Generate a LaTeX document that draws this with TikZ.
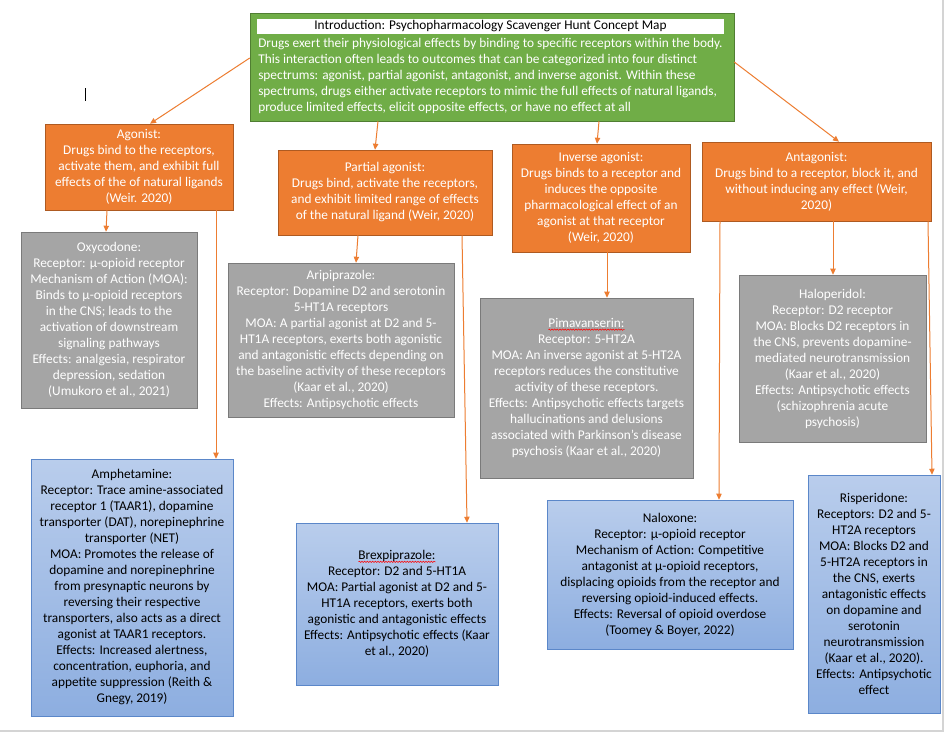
\documentclass[tikz,border=0pt]{standalone}
\usepackage{fontspec}
\setmainfont{Carlito}
\usetikzlibrary{arrows.meta,calc,positioning,decorations.pathmorphing}
\definecolor{greenfill}{HTML}{70AD47}
\definecolor{greenline}{HTML}{507E32}
\definecolor{orangefill}{HTML}{ED7D31}
\definecolor{orangeline}{HTML}{AE5A21}
\definecolor{grayfill}{HTML}{A5A5A5}
\definecolor{grayline}{HTML}{7A7A7A}
\definecolor{bluetop}{HTML}{B9CDEC}
\definecolor{bluebottom}{HTML}{8DAEE0}
\definecolor{blueline}{HTML}{5B87C9}
\definecolor{edgegray}{HTML}{D4D4D4}
\newcommand\boxfont{\fontsize{10}{12}\selectfont}
% red spell-check squiggle under a word
\newcommand\spellmark[1]{\tikz[baseline=(w.base)]{\node[inner sep=0pt,outer sep=0pt,
    minimum width=0pt,minimum height=0pt,draw=none,fill=none] (w) {#1};
  \draw[red,line width=0.4pt,decorate,decoration={snake,amplitude=0.5pt,segment length=2pt}]
    ([yshift=-1.6pt]w.base west) -- ([yshift=-1.6pt]w.base east);}}

\begin{document}
\begin{tikzpicture}[x=0.75pt,y=-0.75pt,
  wh/.style 2 args={minimum width=#1*0.75pt,minimum height=#2*0.75pt},
  catbox/.style={draw=orangeline,fill=orangefill,text=white,align=center,inner sep=1pt,font=\boxfont},
  drugbox/.style={draw=grayline,fill=grayfill,text=white,align=center,inner sep=1pt,font=\boxfont},
  bluebox/.style={draw=blueline,top color=bluetop,bottom color=bluebottom,text=black,align=center,inner sep=1pt,font=\boxfont},
  link/.style={draw=orangefill,line width=0.75pt,-{Triangle[length=4.5pt,width=4pt]}}]

\useasboundingbox (0,0) rectangle (946,736);
\fill[white] (0,0) rectangle (946,736);
\draw[edgegray,line width=1.5pt] (943,0) -- (943,731) -- (0,731);
\draw[black,line width=0.5pt] (85,88) -- (85,101);

% introduction
\node[draw=greenline,fill=greenfill,wh={484}{108}] (intro) at (492,67) {};
\node[fill=white,wh={467}{15},inner sep=0pt,font=\boxfont] (title) at (490.5,26.5)
  {Introduction: Psychopharmacology Scavenger Hunt Concept Map};
\node[anchor=north west,inner sep=0pt,align=left,text=white,font=\boxfont] (introtext) at (258,38)
  {Drugs exert their physiological effects by binding to specific receptors within the body.\\
   This interaction often leads to outcomes that can be categorized into four distinct\\
   spectrums: agonist, partial agonist, antagonist, and inverse agonist. Within these\\
   spectrums, drugs either activate receptors to mimic the full effects of natural ligands,\\
   produce limited effects, elicit opposite effects, or have no effect at all};

% categories
\node[catbox,wh={188}{86}] (agonist) at (139,167)
  {Agonist:\\Drugs bind to the receptors,\\activate them, and exhibit full\\effects of the of natural ligands\\(Weir. 2020)};
\node[catbox,wh={214}{85}] (partial) at (385,192.5)
  {Partial agonist:\\Drugs bind, activate the receptors,\\and exhibit limited range of effects\\of the natural ligand (Weir, 2020)};
\node[catbox,wh={178}{108}] (inverse) at (601,198)
  {Inverse agonist:\\Drugs binds to a receptor and\\induces the opposite\\pharmacological effect of an\\agonist at that receptor\\(Weir, 2020)};
\node[catbox,wh={229}{79}] (antag) at (816.5,181.5)
  {Antagonist:\\Drugs bind to a receptor, block it, and\\without inducing any effect (Weir,\\2020)};

% drugs
\node[drugbox,wh={176}{176}] (oxy) at (109,320)
  {Oxycodone:\\Receptor: µ-opioid receptor\\Mechanism of Action (MOA):\\Binds to µ-opioid receptors\\in the CNS; leads to the\\activation of downstream\\signaling pathways\\Effects: analgesia, respirator\\depression, sedation\\(Umukoro et al., 2021)};
\node[drugbox,wh={226}{154}] (arip) at (341,340)
  {Aripiprazole:\\Receptor: Dopamine D2 and serotonin\\5-HT1A receptors\\MOA: A partial agonist at D2 and 5-\\HT1A receptors, exerts both agonistic\\and antagonistic effects depending on\\the baseline activity of these receptors\\(Kaar et al., 2020)\\Effects: Antipsychotic effects};
\node[drugbox,wh={213}{180}] (pimav) at (586.5,388)
  {\spellmark{Pimavanserin:}\\Receptor: 5-HT2A\\MOA: An inverse agonist at 5-HT2A\\receptors reduces the constitutive\\activity of these receptors.\\Effects: Antipsychotic effects targets\\hallucinations and delusions\\associated with Parkinson's disease\\psychosis (Kaar et al., 2020)};
\node[drugbox,wh={187}{167}] (halo) at (832.5,358.5)
  {Haloperidol:\\Receptor: D2 receptor\\MOA: Blocks D2 receptors in\\the CNS, prevents dopamine-\\mediated neurotransmission\\(Kaar et al., 2020)\\Effects: Antipsychotic effects\\(schizophrenia acute\\psychosis)};
\node[bluebox,wh={202}{257}] (amph) at (132,587.5)
  {Amphetamine:\\Receptor: Trace amine-associated\\receptor 1 (TAAR1), dopamine\\transporter (DAT), norepinephrine\\transporter (NET)\\MOA: Promotes the release of\\dopamine and norepinephrine\\from presynaptic neurons by\\reversing their respective\\transporters, also acts as a direct\\agonist at TAAR1 receptors.\\Effects: Increased alertness,\\concentration, euphoria, and\\appetite suppression (Reith \&\\Gnegy, 2019)};
\node[bluebox,wh={202}{162}] (brex) at (397,604)
  {\spellmark{Brexpiprazole:}\\Receptor: D2 and 5-HT1A\\MOA: Partial agonist at D2 and 5-\\HT1A receptors, exerts both\\agonistic and antagonistic effects\\Effects: Antipsychotic effects (Kaar\\et al., 2020)};
\node[bluebox,wh={246}{149}] (nalox) at (670,574.5)
  {Naloxone:\\Receptor: µ-opioid receptor\\Mechanism of Action: Competitive\\antagonist at µ-opioid receptors,\\displacing opioids from the receptor and\\reversing opioid-induced effects.\\Effects: Reversal of opioid overdose\\(Toomey \& Boyer, 2022)};
\node[bluebox,wh={132}{238}] (risp) at (874,594)
  {Risperidone:\\Receptors: D2 and 5-\\HT2A receptors\\MOA: Blocks D2 and\\5-HT2A receptors in\\the CNS, exerts\\antagonistic effects\\on dopamine and\\serotonin\\neurotransmission\\(Kaar et al., 2020).\\Effects: Antipsychotic\\effect};

% links
\draw[link] ($(intro.west)+(0,-9)$) -- ($(agonist.north)+(11,0)$);
\draw[link] ($(intro.east)+(0,-5)$) -- ($(antag.north)+(22.5,0)$);
\foreach \p/\dp/\c/\dc in {intro/-114/partial/-10, intro/107/inverse/-4,
    agonist/-32/oxy/-3, agonist/77/amph/84, partial/-27/arip/15, partial/77/brex/70,
    inverse/6/pimav/20.5, antag/16.5/halo/0.5, antag/-96.5/nalox/49, antag/111.5/risp/58}
  \draw[link] ($(\p.south)+(\dp,0)$) -- ($(\c.north)+(\dc,0)$);

\end{tikzpicture}
\end{document}
